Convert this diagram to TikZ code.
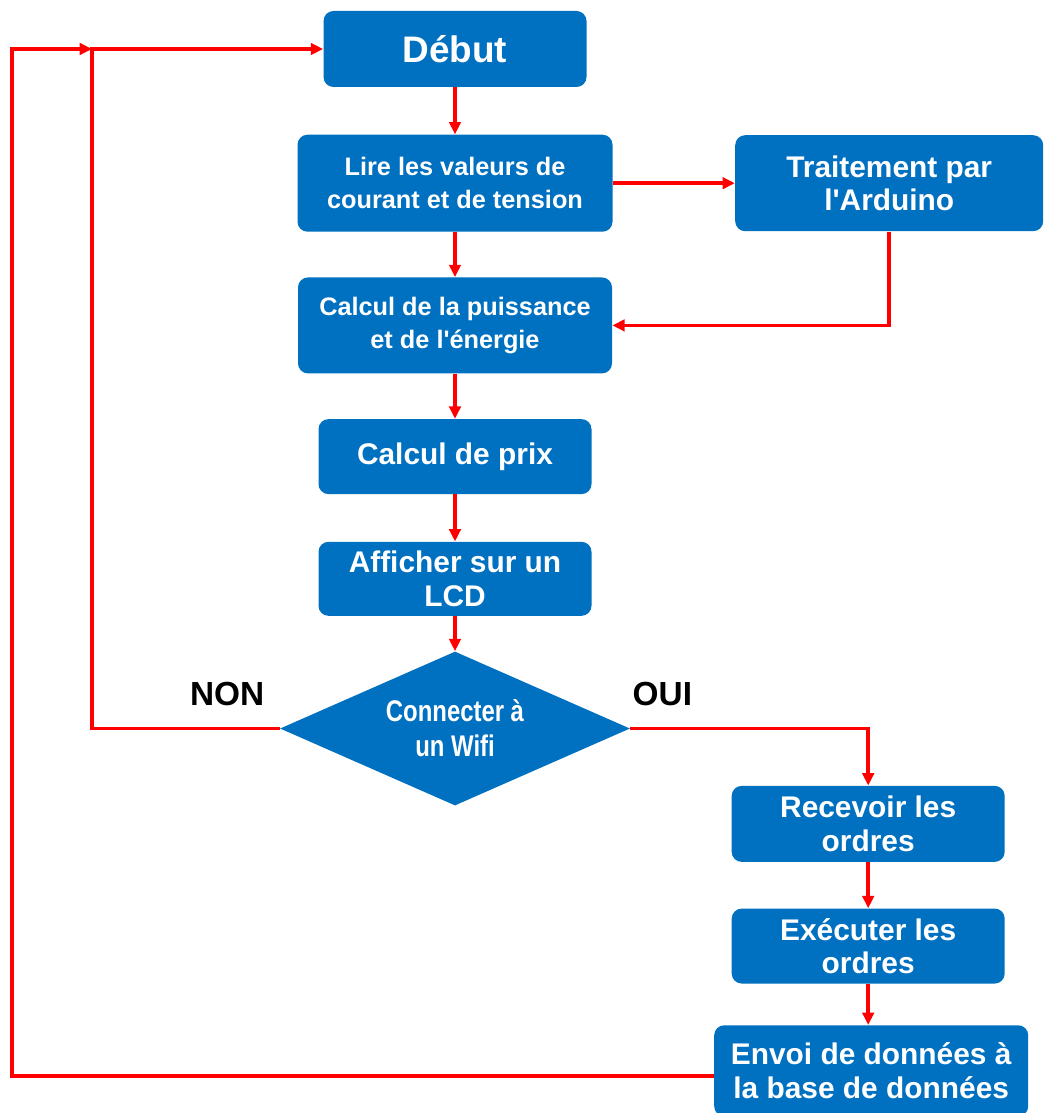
\documentclass[tikz,border=0pt]{standalone}
\usepackage{fontspec}
\setmainfont{Liberation Sans}
\newfontfamily\narrowsans{Liberation Sans}[FakeStretch=0.8]
\usetikzlibrary{positioning,shapes.geometric,arrows.meta}
\definecolor{boxblue}{HTML}{0070C0}
\definecolor{flowred}{HTML}{FF0000}

\begin{document}
\begin{tikzpicture}[node distance=0.9cm, >={Triangle[length=7pt,width=6.5pt]},
                    block/.style={fill=boxblue, text=white, rounded corners=0.2cm, align=center,
                                  inner sep=2pt, font=\bfseries\fontsize{17}{19}\selectfont},
                    smallblock/.style={block, font=\bfseries\fontsize{14.4}{18.7}\selectfont},
                    flow/.style={->, flowred, line width=2pt},
                    answer/.style={inner sep=0pt, font=\bfseries\fontsize{19}{21}\selectfont}]
  \useasboundingbox (0,0) rectangle (20.9,-22.26);
  % main column
  \node (debut) [block, minimum width=5.26cm, minimum height=1.52cm,
                 font=\bfseries\fontsize{21}{24}\selectfont] at (9.1,-0.98) {Début};
  \node (lire)  [smallblock, below=0.94cm of debut, minimum width=6.3cm, minimum height=1.94cm]
                {Lire les valeurs de\\courant et de tension};
  \node (trait) [block, right=2.44cm of lire, minimum width=6.16cm, minimum height=1.92cm]
                {Traitement par\\l\textquotesingle Arduino};
  \node (calc)  [smallblock, below=0.9cm of lire, minimum width=6.28cm, minimum height=1.92cm]
                {Calcul de la puissance\\et de l\textquotesingle énergie};
  \node (prix)  [block, below=0.9cm of calc, minimum width=5.46cm, minimum height=1.5cm] {Calcul de prix};
  \node (lcd)   [block, below=0.94cm of prix, minimum width=5.46cm, minimum height=1.48cm]
                {Afficher sur un\\LCD};
  \node (dia)   [diamond, fill=boxblue, text=white, align=center, inner sep=0pt, aspect=2.27,
                 minimum width=7cm, minimum height=3.08cm, below=0.7cm of lcd,
                 font=\narrowsans\bfseries\fontsize{17}{20}\selectfont] {Connecter à\\un Wifi};
  % right column
  \node (recv)  [block, below right=1.14cm and 2.02cm of dia.east, minimum width=5.46cm, minimum height=1.52cm]
                {Recevoir les\\ordres};
  \node (exec)  [block, below=0.92cm of recv, minimum width=5.46cm, minimum height=1.5cm]
                {Exécuter les\\ordres};
  \node (envoi) [block, below=0.82cm of exec, xshift=0.06cm, minimum width=6.28cm, minimum height=1.82cm]
                {Envoi de données à\\la base de données};
  \node (non)   [answer, above left=0.44cm and 0.3cm of dia.west] {NON};
  \node (oui)   [answer, above right=0.44cm and 0.04cm of dia.east] {OUI};
  \coordinate (outer) at (0.24,-0.98);
  \coordinate (inner) at (1.84,-0.98);
  % connectors
  \draw[flow] (debut) -- (lire);
  \draw[flow] (lire) -- (trait);
  \draw[flow] (lire) -- (calc);
  \draw[flow] (trait.south) |- (calc.east);
  \draw[flow] (calc) -- (prix);
  \draw[flow] (prix) -- (lcd);
  \draw[flow] (lcd) -- (dia);
  \draw[flow] (dia.east) -| (recv.north);
  \draw[flow] (recv) -- (exec);
  \draw[flow] (exec) -- (exec |- envoi.north);
  \draw[flow] ([yshift=-0.1cm]envoi.west) -| (outer) -- (inner);
  \draw[flow] (dia.west) -| (inner) -- (debut.west);
\end{tikzpicture}
\end{document}
